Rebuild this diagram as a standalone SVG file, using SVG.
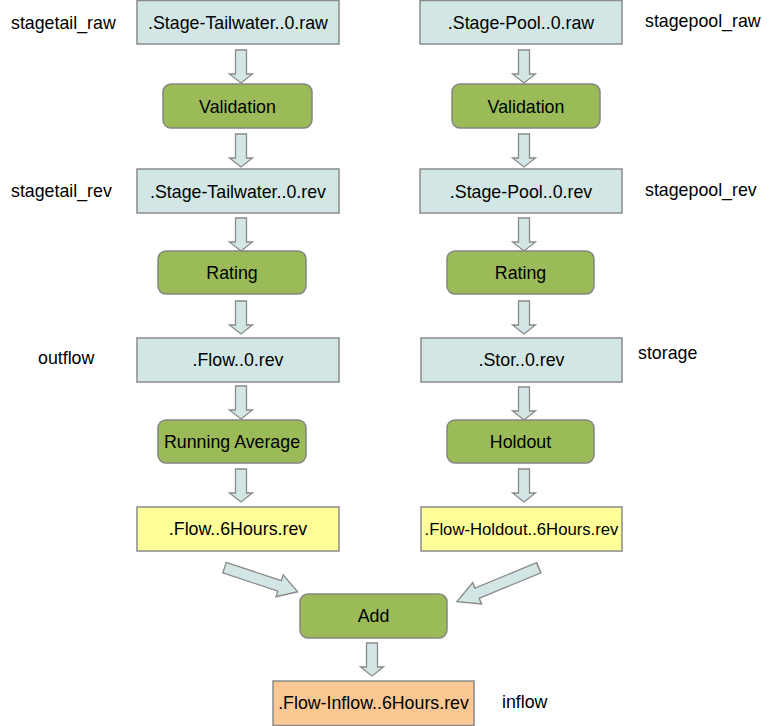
<svg xmlns="http://www.w3.org/2000/svg" width="775" height="726" viewBox="0 0 775 726">
<style>
text{font-family:"Liberation Sans",Arial,sans-serif;font-size:17.8px;fill:#000}
.c{text-anchor:middle}
.data{fill:#d2e7e5;stroke:#8a8a8a;stroke-width:1.5}
.proc{fill:#9bbb59;stroke:#858585;stroke-width:1.5}
.out{fill:#ffff99;stroke:#8a8a8a;stroke-width:1.5}
.fin{fill:#fbc893;stroke:#8a8a8a;stroke-width:1.5}
.arr{fill:#d2e7e5;stroke:#8a8a8a;stroke-width:1.3;stroke-linejoin:miter}
</style>
<defs>
<path id="down" d="M-5.5,0 H5.5 V24 H11.5 L0,33 L-11.5,24 H-5.5 Z"/>
<path id="diag" d="M0,-5.5 H58 V-11.5 L77,0 L58,11.5 V5.5 H0 Z"/>
</defs>
<rect width="775" height="726" fill="#fff"/>

<g id="labels">
<text x="11" y="29">stagetail_raw</text>
<text x="11" y="197">stagetail_rev</text>
<text x="38" y="364">outflow</text>
<text x="645" y="27">stagepool_raw</text>
<text x="645" y="196">stagepool_rev</text>
<text x="638" y="359">storage</text>
<text x="502" y="708">inflow</text>
</g>

<g id="connectors">
<use href="#down" class="arr" x="241" y="50"/>
<use href="#down" class="arr" x="241" y="134"/>
<use href="#down" class="arr" x="241" y="218"/>
<use href="#down" class="arr" x="241" y="301"/>
<use href="#down" class="arr" x="241" y="386"/>
<use href="#down" class="arr" x="241" y="469"/>
<use href="#down" class="arr" x="524" y="50"/>
<use href="#down" class="arr" x="524" y="134"/>
<use href="#down" class="arr" x="524" y="218"/>
<use href="#down" class="arr" x="524" y="301"/>
<use href="#down" class="arr" x="524" y="387"/>
<use href="#down" class="arr" x="524" y="469"/>
<use href="#down" class="arr" x="372" y="643"/>
<use href="#diag" class="arr" transform="translate(224.5,567.7) rotate(18.2)"/>
<use href="#diag" class="arr" transform="translate(538.7,567.7) rotate(157.5) scale(1.15,1)"/>
</g>

<g id="n-stagetail-raw"><rect class="data" x="137" y="0.5" width="202" height="43.5"/><text class="c" x="238" y="28.5">.Stage-Tailwater..0.raw</text></g>
<g id="n-validation-l"><rect class="proc" x="163" y="84" width="149" height="44" rx="8"/><text class="c" x="237.5" y="112.5">Validation</text></g>
<g id="n-stagetail-rev"><rect class="data" x="137" y="169" width="202" height="44"/><text class="c" x="238" y="197.5">.Stage-Tailwater..0.rev</text></g>
<g id="n-rating-l"><rect class="proc" x="158" y="251" width="148" height="43" rx="8"/><text class="c" x="232" y="279">Rating</text></g>
<g id="n-flow"><rect class="data" x="137" y="338" width="202" height="44"/><text class="c" x="238" y="366">.Flow..0.rev</text></g>
<g id="n-running"><rect class="proc" x="158" y="420" width="148" height="43" rx="8"/><text class="c" x="232" y="448">Running Average</text></g>
<g id="n-flow6"><rect class="out" x="137" y="507" width="202" height="44"/><text class="c" x="238" y="535">.Flow..6Hours.rev</text></g>

<g id="n-stagepool-raw"><rect class="data" x="420" y="0.5" width="202" height="43.5"/><text class="c" x="521" y="28.5">.Stage-Pool..0.raw</text></g>
<g id="n-validation-r"><rect class="proc" x="452" y="84" width="148" height="44" rx="8"/><text class="c" x="526" y="112.5">Validation</text></g>
<g id="n-stagepool-rev"><rect class="data" x="420" y="169" width="202" height="44"/><text class="c" x="521" y="197.5">.Stage-Pool..0.rev</text></g>
<g id="n-rating-r"><rect class="proc" x="447" y="251" width="147" height="43" rx="8"/><text class="c" x="520.5" y="279">Rating</text></g>
<g id="n-stor"><rect class="data" x="421" y="338" width="201" height="44"/><text class="c" x="521.5" y="366">.Stor..0.rev</text></g>
<g id="n-holdout"><rect class="proc" x="447" y="420" width="147" height="43" rx="8"/><text class="c" x="520.5" y="448">Holdout</text></g>
<g id="n-flowholdout"><rect class="out" x="421" y="507" width="201" height="44"/><text class="c" x="521.5" y="535" style="font-size:16.7px">.Flow-Holdout..6Hours.rev</text></g>

<g id="n-add"><rect class="proc" x="300" y="594" width="147" height="44" rx="8"/><text class="c" x="373.5" y="622">Add</text></g>
<g id="n-inflow"><rect class="fin" x="273" y="681" width="201" height="44.5"/><text class="c" x="373.5" y="709">.Flow-Inflow..6Hours.rev</text></g>
</svg>
